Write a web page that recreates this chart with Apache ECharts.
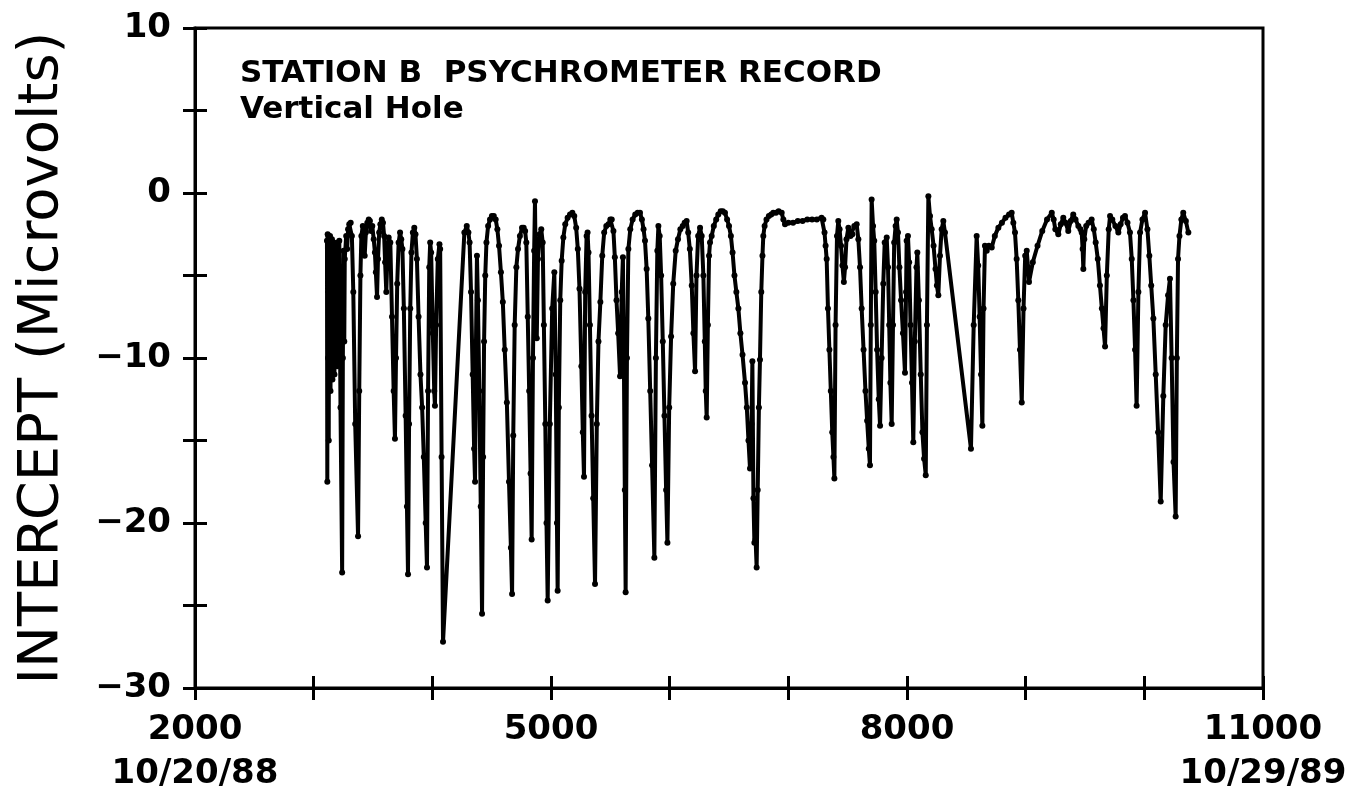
<!DOCTYPE html>
<html>
<head>
<meta charset="utf-8">
<title>Station B Psychrometer Record</title>
<script src="https://cdn.jsdelivr.net/npm/echarts@6.0.0/dist/echarts.min.js"></script>
<style>
  html, body { margin: 0; padding: 0; background: #ffffff; }
  #chart { width: 1359px; height: 794px; }
</style>
</head>
<body>
<div id="chart"></div>
<script>
// Elapsed time (hours) of each reading
const days = [
  3112, 3115, 3118, 3121, 3124, 3127, 3130, 3134, 3138, 3142, 3146, 3150, 3154, 3158, 3162, 3166,
  3170, 3175, 3180, 3186, 3192, 3198, 3204, 3210, 3216, 3226, 3240, 3246, 3252, 3258, 3262, 3274,
  3282, 3290, 3300, 3312, 3322, 3334, 3350, 3374, 3384, 3394, 3402, 3414,
  3424, 3430, 3440, 3452, 3464, 3474, 3484, 3494, 3506, 3516, 3524, 3534, 3542, 3552, 3562, 3574,
  3584, 3594, 3602, 3612, 3622, 3632, 3646, 3660, 3674, 3685, 3694, 3704, 3716, 3728, 3738, 3748,
  3760, 3775, 3786, 3795, 3804, 3814, 3824, 3836, 3848, 3858, 3870, 3884, 3900, 3914, 3928, 3944,
  3955, 3964, 3974, 3982, 3990, 4004, 4016, 4022, 4032, 4046, 4060, 4066, 4078, 4090, 4270, 4290,
  4304, 4314, 4326, 4340, 4352, 4360, 4368, 4376, 4384, 4396, 4408, 4419, 4428, 4436, 4446, 4456,
  4470, 4486, 4502, 4518, 4534, 4548, 4562, 4578, 4594, 4610, 4628, 4646, 4662, 4672, 4682, 4694,
  4708, 4722, 4738, 4756, 4770, 4782, 4792, 4804, 4816, 4828, 4837, 4848, 4858, 4865, 4872, 4880,
  4890, 4904, 4918, 4930, 4940, 4952, 4962, 4972, 4990, 5010, 5028, 5040, 5050, 5056, 5066, 5078,
  5090, 5104, 5120, 5140, 5160, 5180, 5196, 5212, 5226, 5240, 5256, 5268, 5278, 5288, 5300, 5308,
  5316, 5328, 5342, 5356, 5371, 5386, 5400, 5416, 5432, 5448, 5466, 5484, 5500, 5512, 5526, 5538,
  5552, 5566, 5582, 5596, 5606, 5614, 5622, 5629, 5640, 5652, 5668, 5688, 5710, 5730, 5750, 5766,
  5780, 5792, 5806, 5820, 5836, 5852, 5871, 5884, 5896, 5905, 5916, 5928, 5942, 5956, 5970, 5981,
  5996, 6012, 6030, 6051, 6070, 6090, 6110, 6126, 6143, 6156, 6170, 6186, 6200, 6214, 6226, 6240,
  6256, 6270, 6284, 6296, 6304, 6312, 6322, 6332, 6340, 6354, 6372, 6392, 6410, 6430, 6448, 6466,
  6484, 6500, 6516, 6530, 6546, 6562, 6579, 6596, 6614, 6635, 6650, 6664, 6677, 6690, 6697, 6706,
  6714, 6724, 6733, 6742, 6752, 6761, 6772, 6782, 6789, 6800, 6816, 6836, 6856, 6873, 6896, 6918,
  6944, 6958, 6972, 7000, 7040, 7080, 7120, 7160, 7200, 7240, 7280, 7295, 7305, 7314, 7323, 7334,
  7346, 7358, 7370, 7380, 7388, 7398, 7410, 7421, 7432, 7444, 7456, 7468, 7478, 7490, 7506, 7524,
  7540, 7556, 7576, 7590, 7604, 7618, 7634, 7650, 7664, 7678, 7688, 7695, 7702, 7714, 7724, 7736,
  7748, 7762, 7773, 7786, 7800, 7812, 7829, 7840, 7850, 7860, 7871, 7882, 7892, 7904, 7913, 7924,
  7936, 7950, 7966, 7983, 7992, 7997, 8008, 8018, 8030, 8042, 8053, 8066, 8080, 8087, 8100, 8116,
  8130, 8144, 8158, 8168, 8180, 8194, 8208, 8224, 8240, 8252, 8264, 8278, 8292, 8306, 8320, 8539,
  8562, 8587, 8600, 8612, 8624, 8635, 8645, 8657, 8672, 8690, 8714, 8740, 8770, 8800, 8830, 8860,
  8882, 8896, 8910, 8924, 8938, 8952, 8967, 8982, 8996, 9009, 9020, 9028, 9060, 9100, 9140, 9180,
  9220, 9236, 9250, 9275, 9296, 9317, 9336, 9359, 9380, 9401, 9420, 9444, 9462, 9472, 9480, 9486,
  9494, 9510, 9530, 9556, 9574, 9590, 9608, 9626, 9642, 9656, 9669, 9684, 9700, 9711, 9730, 9756,
  9781, 9800, 9820, 9837, 9858, 9879, 9894, 9908, 9922, 9935, 9950, 9964, 9984, 10006, 10026, 10042,
  10058, 10076, 10096, 10116, 10138, 10160, 10180, 10200, 10216, 10230, 10246, 10264, 10274, 10284, 10296, 10312,
  10328, 10350, 10371
];

// Psychrometer intercept (microvolts) at each reading
const intercept = [
  -2.9, -17.5, -2.5, -10.0, -2.6, -15.0, -2.8, -9.0, -2.6, -12.0, -3.0, -8.0, -2.8, -11.3, -3.3, -7.5,
  -3.0, -11.0, -3.6, -9.5, -3.2, -10.5, -3.0, -8.0, -2.9, -13.0, -23.0, -10.0, -3.5, -9.0, -4.0, -2.6,
  -3.4, -2.2, -1.9, -1.8, -2.6, -6.0, -14.0, -20.8, -12.0, -5.0, -2.6, -2.0,
  -2.2, -3.8, -2.4, -1.8, -1.6, -1.7, -2.3, -2.0, -2.8, -3.6, -4.8, -6.3, -4.0, -2.4, -1.9, -1.6,
  -1.8, -2.6, -4.2, -6.0, -3.6, -2.7, -3.0, -7.5, -12.0, -14.9, -10.0, -5.5, -3.0, -2.4, -2.8, -3.4,
  -7.0, -13.5, -19.0, -23.1, -14.0, -7.0, -3.6, -2.4, -2.1, -2.5, -4.0, -7.5, -11.0, -13.0, -16.0, -20.0,
  -22.7, -12.0, -4.5, -3.0, -3.6, -8.5, -12.0, -12.9, -8.0, -4.0, -3.1, -3.4, -16.0, -27.2, -2.4, -2.0,
  -2.4, -3.0, -6.0, -11.0, -15.5, -17.5, -9.0, -3.8, -6.5, -12.0, -19.0, -25.5, -16.0, -9.0, -5.0, -3.0,
  -2.0, -1.6, -1.4, -1.4, -1.6, -2.2, -3.2, -4.8, -6.6, -9.5, -12.7, -17.5, -21.5, -24.3, -14.7, -8.0,
  -4.5, -3.4, -2.6, -2.1, -2.1, -2.3, -3.0, -7.5, -12.0, -17.0, -21.0, -10.0, -3.5, -0.5, -5.0, -8.8,
  -4.0, -2.5, -2.2, -3.0, -8.0, -14.0, -20.0, -24.7, -14.0, -7.0, -4.8, -11.0, -20.0, -24.1, -13.0, -6.5,
  -4.1, -2.7, -1.9, -1.5, -1.3, -1.2, -1.4, -2.1, -3.4, -5.8, -10.5, -14.5, -17.2, -6.0, -2.6, -2.4,
  -3.6, -8.0, -13.5, -18.5, -23.7, -14.0, -9.0, -6.6, -3.8, -2.4, -2.0, -1.9, -1.6, -1.6, -2.3, -3.9,
  -6.5, -8.5, -11.1, -6.0, -3.9, -10.0, -18.0, -24.2, -10.0, -3.4, -2.2, -1.6, -1.3, -1.2, -1.2, -1.6,
  -2.2, -2.9, -4.6, -7.6, -12.0, -16.5, -22.1, -10.0, -3.5, -2.0, -2.6, -5.0, -9.0, -13.5, -18.0, -21.2,
  -13.0, -8.7, -5.5, -3.5, -2.8, -2.2, -2.0, -1.8, -1.7, -2.4, -3.4, -5.6, -8.5, -10.8, -5.0, -2.6,
  -2.1, -2.6, -5.0, -9.0, -12.0, -13.6, -8.0, -3.8, -3.0, -2.6, -2.0, -1.6, -1.3, -1.1, -1.1, -1.2,
  -1.6, -2.0, -2.6, -3.6, -5.0, -6.0, -7.0, -8.5, -9.8, -11.5, -13.0, -15.0, -16.7, -14.0, -10.2, -18.5,
  -21.2, -21.0, -22.7, -18.0, -13.0, -10.1, -6.0, -3.8, -2.6, -2.0, -1.6, -1.4, -1.3, -1.2, -1.2, -1.1,
  -1.2, -1.6, -1.9, -1.8, -1.8, -1.7, -1.7, -1.6, -1.6, -1.6, -1.5, -1.6, -2.4, -3.2, -4.0, -7.0,
  -9.5, -12.0, -14.5, -16.0, -17.3, -8.0, -2.6, -1.7, -2.2, -3.2, -4.4, -5.4, -4.5, -2.8, -2.1, -2.6,
  -2.5, -2.0, -1.9, -2.8, -4.5, -7.0, -9.5, -12.0, -13.8, -15.5, -16.5, -8.0, -0.4, -2.0, -2.9, -6.0,
  -9.5, -12.5, -14.1, -10.0, -5.5, -3.0, -2.7, -4.5, -8.0, -11.5, -14.0, -8.0, -3.0, -2.0, -1.6, -2.4,
  -4.5, -6.5, -8.5, -10.9, -6.0, -2.9, -2.6, -4.2, -8.0, -11.5, -15.1, -9.0, -4.5, -3.6, -6.5, -11.0,
  -14.5, -16.1, -17.1, -8.0, -0.2, -1.4, -2.2, -3.2, -4.6, -5.6, -6.2, -3.8, -2.2, -1.7, -2.4, -15.5,
  -8.0, -2.6, -4.4, -7.5, -11.0, -14.1, -7.0, -3.2, -3.5, -3.2, -3.3, -2.6, -2.1, -1.8, -1.5, -1.3,
  -1.2, -1.8, -2.4, -4.0, -6.5, -9.5, -12.7, -7.0, -3.8, -3.5, -4.5, -5.4, -4.2, -3.2, -2.3, -1.6,
  -1.2, -1.6, -2.2, -2.5, -1.9, -1.5, -1.8, -2.3, -1.7, -1.3, -1.6, -2.0, -2.2, -2.4, -3.4, -4.6,
  -2.8, -2.0, -1.8, -1.6, -2.2, -3.0, -4.0, -5.6, -7.0, -8.2, -9.3, -5.0, -2.2, -1.4, -1.6, -2.0,
  -2.4, -1.9, -1.5, -1.4, -1.8, -2.4, -4.0, -6.5, -9.5, -12.9, -6.0, -2.4, -1.6, -1.2, -2.2, -3.8,
  -5.6, -7.6, -11.0, -14.5, -18.7, -12.3, -8.0, -6.2, -5.2, -10.0, -16.3, -19.6, -10.0, -4.0, -2.6, -1.6,
  -1.2, -1.7, -2.4
];

// Axis tick labels
const xLabelTicks = [2000, 5000, 8000, 11000];
const xDateLabels = ['10/20/88', '', '', '10/29/89'];
const yLabelTicks = [-30, -20, -10, 0, 10];

const titleLines = ['STATION B  PSYCHROMETER RECORD', 'Vertical Hole'];
const yAxisTitle = 'INTERCEPT (Microvolts)';

const series = days.map((d, i) => [d, intercept[i]]);

const labelFont = {
  fontFamily: 'DejaVu Sans',
  fontWeight: 'bold',
  fontSize: 34,
  color: '#000'
};

const chart = echarts.init(document.getElementById('chart'), null, { renderer: 'canvas' });

const xBase = { type: 'value', min: 2000, max: 11000, interval: 1000, position: 'bottom', splitLine: { show: false } };
const yBase = { type: 'value', min: -30, max: 10, interval: 5, position: 'left', splitLine: { show: false } };

chart.setOption({
  backgroundColor: '#ffffff',
  animation: false,
  grid: {
    left: 195, right: 96, top: 28, bottom: 106,
    containLabel: false,
    outerBoundsMode: 'none',
    show: true,
    borderColor: '#000',
    borderWidth: 3,
    backgroundColor: 'transparent'
  },
  xAxis: [
    Object.assign({}, xBase, {
      axisLine: { show: true, onZero: false, lineStyle: { color: '#000', width: 3 } },
      axisTick: { show: true, inside: true, length: 12, lineStyle: { color: '#000', width: 3 } },
      axisLabel: {
        margin: 20,
        showMinLabel: true,
        showMaxLabel: true,
        formatter: function (v) {
          const i = xLabelTicks.indexOf(v);
          if (i < 0) return '';
          return xDateLabels[i] ? '{n|' + v + '}\n{n|' + xDateLabels[i] + '}' : '{n|' + v + '}';
        },
        rich: { n: Object.assign({ lineHeight: 44, align: 'center' }, labelFont) }
      }
    }),
    Object.assign({}, xBase, {
      axisLine: { show: false, onZero: false },
      axisTick: { show: true, inside: false, length: 12, lineStyle: { color: '#000', width: 3 } },
      axisLabel: { show: false }
    })
  ],
  yAxis: [
    Object.assign({}, yBase, {
      name: yAxisTitle,
      nameLocation: 'middle',
      nameRotate: 90,
      nameGap: 125,
      nameTextStyle: { fontFamily: 'DejaVu Sans', fontSize: 56, fontWeight: 'normal', color: '#000' },
      axisLine: { show: true, onZero: false, lineStyle: { color: '#000', width: 3 } },
      axisTick: { show: true, inside: true, length: 12, lineStyle: { color: '#000', width: 3 } },
      axisLabel: Object.assign({
        margin: 24,
        showMinLabel: true,
        showMaxLabel: true,
        formatter: function (v) {
          if (yLabelTicks.indexOf(v) < 0) return '';
          return String(v).replace('-', '\u2212');
        }
      }, labelFont)
    }),
    Object.assign({}, yBase, {
      axisLine: { show: false, onZero: false },
      axisTick: { show: true, inside: false, length: 12, lineStyle: { color: '#000', width: 3 } },
      axisLabel: { show: false }
    })
  ],
  graphic: [
    {
      type: 'text', left: 240, top: 58,
      style: { text: titleLines[0], fontFamily: 'DejaVu Sans', fontWeight: 'bold', fontSize: 31, fill: '#000' }
    },
    {
      type: 'text', left: 240, top: 94,
      style: { text: titleLines[1], fontFamily: 'DejaVu Sans', fontWeight: 'bold', fontSize: 31, fill: '#000' }
    }
  ],
  series: [{
    type: 'line',
    xAxisIndex: 0,
    yAxisIndex: 0,
    data: series,
    showSymbol: true,
    symbol: 'circle',
    symbolSize: 6,
    itemStyle: { color: '#000' },
    lineStyle: { color: '#000', width: 4 },
    emphasis: { disabled: true },
    clip: true
  }]
});
</script>
</body>
</html>
